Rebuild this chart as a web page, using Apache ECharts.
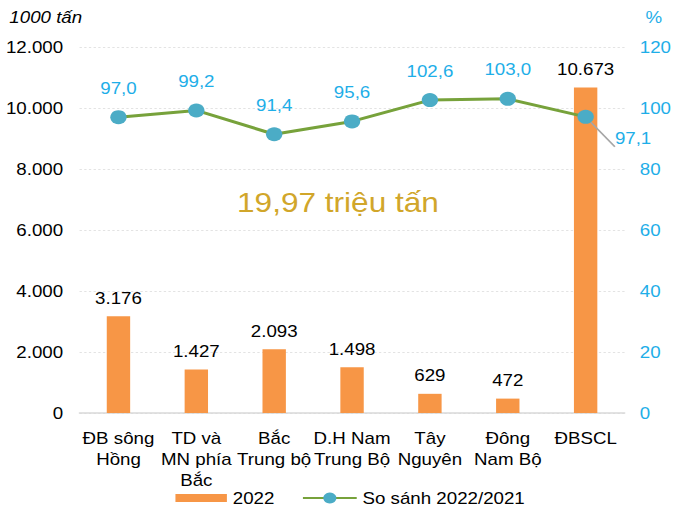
<!DOCTYPE html>
<html><head><meta charset="utf-8">
<script src="https://cdn.jsdelivr.net/npm/echarts@6/dist/echarts.min.js"></script>
<style>
html,body{margin:0;padding:0;background:#fff;overflow:hidden}
#wrap{width:676px;height:515px;overflow:hidden}
#c{width:578px;height:515px;transform:scaleX(1.1696);transform-origin:0 0}
</style>
</head><body><div id="wrap"><div id="c"></div></div>
<script>
const categories = ['ĐB sông\nHồng', 'TD và\nMN phía\nBắc', 'Bắc\nTrung bộ', 'D.H Nam\nTrung Bộ', 'Tây\nNguyên', 'Đông\nNam Bộ', 'ĐBSCL'];
const output2022 = [3176, 1427, 2093, 1498, 629, 472, 10673];
const compare = [97.0, 99.2, 91.4, 95.6, 102.6, 103.0, 97.1];
const leftTicks = [0, 2000, 4000, 6000, 8000, 10000, 12000];
const rightTicks = [0, 20, 40, 60, 80, 100, 120];

const fmtThousands = v => String(Math.round(v)).replace(/\B(?=(\d{3})+(?!\d))/g, '.');
const fmtDec = v => v.toFixed(1).replace('.', ',');
const FONT = 'Liberation Sans, Arial, sans-serif';
const BLUE = '#1eaee8';

const chart = echarts.init(document.getElementById('c'), null, { renderer: 'svg' });
chart.setOption({
  animation: false,
  textStyle: { fontFamily: FONT },
  grid: { left: 68, right: 44, top: 47, bottom: 102 },
  legend: [{
    bottom: 4, left: 145, itemGap: 4,
    textStyle: { fontSize: 16, color: '#000', fontFamily: FONT },
    data: [{ name: '2022', icon: 'rect', itemStyle: { color: '#f79646' } }],
    itemWidth: 44, itemHeight: 8
  }, {
    bottom: 4, left: 253,
    textStyle: { fontSize: 16, color: '#000', fontFamily: FONT },
    data: [{ name: 'So sánh 2022/2021' }],
    itemWidth: 46, itemHeight: 14
  }],
  graphic: [{
    type: 'text', left: 'center', top: 189,
    style: { text: '19,97 triệu tấn', fontSize: 27, fill: '#d1a62a', fontFamily: FONT }
  }],
  xAxis: {
    type: 'category', data: categories,
    axisLine: { lineStyle: { color: '#d9d9d9', width: 1.5 } },
    axisTick: { show: false },
    axisLabel: { color: '#000', fontSize: 16, lineHeight: 21, margin: 15, interval: 0, fontFamily: FONT }
  },
  yAxis: [{
    type: 'value', min: 0, max: 12000, interval: 2000,
    name: '1000 tấn', nameLocation: 'end', nameGap: 22,
    nameTextStyle: { fontStyle: 'italic', fontSize: 16, color: '#000', align: 'left', padding: [0, 0, 0, -60] },
    axisLabel: { color: '#000', fontSize: 16, margin: 14, formatter: v => fmtThousands(v) },
    splitLine: { lineStyle: { color: '#e3e3e3', type: [2, 2] } },
    axisLine: { show: false }, axisTick: { show: false }
  }, {
    type: 'value', min: 0, max: 120, interval: 20,
    name: '%', nameLocation: 'end', nameGap: 22,
    nameTextStyle: { fontSize: 16, color: BLUE, align: 'left', padding: [0, 0, 0, 18] },
    axisLabel: { color: BLUE, fontSize: 16, margin: 13 },
    splitLine: { show: false }, axisLine: { show: false }, axisTick: { show: false }
  }],
  series: [{
    name: '2022', type: 'bar', data: output2022, barWidth: 20,
    itemStyle: { color: '#f79646' },
    label: { show: true, position: 'top', distance: 10, fontSize: 16, color: '#000', formatter: p => fmtThousands(p.value) }
  }, {
    name: 'So sánh 2022/2021', type: 'line', yAxisIndex: 1,
    data: compare.map((v, i) => i === compare.length - 1 ? {
      value: v,
      label: { position: 'right', offset: [4, 22] },
      labelLine: { show: true, lineStyle: { color: '#a6a6a6', width: 1.5 } }
    } : v),
    symbol: 'circle', symbolSize: 14,
    lineStyle: { color: '#77a23b', width: 3 },
    itemStyle: { color: '#4bacc6' },
    label: { show: true, position: 'top', distance: 14, fontSize: 16, color: BLUE, formatter: p => fmtDec(p.value) },
    z: 5
  }]
});
</script></body></html>
